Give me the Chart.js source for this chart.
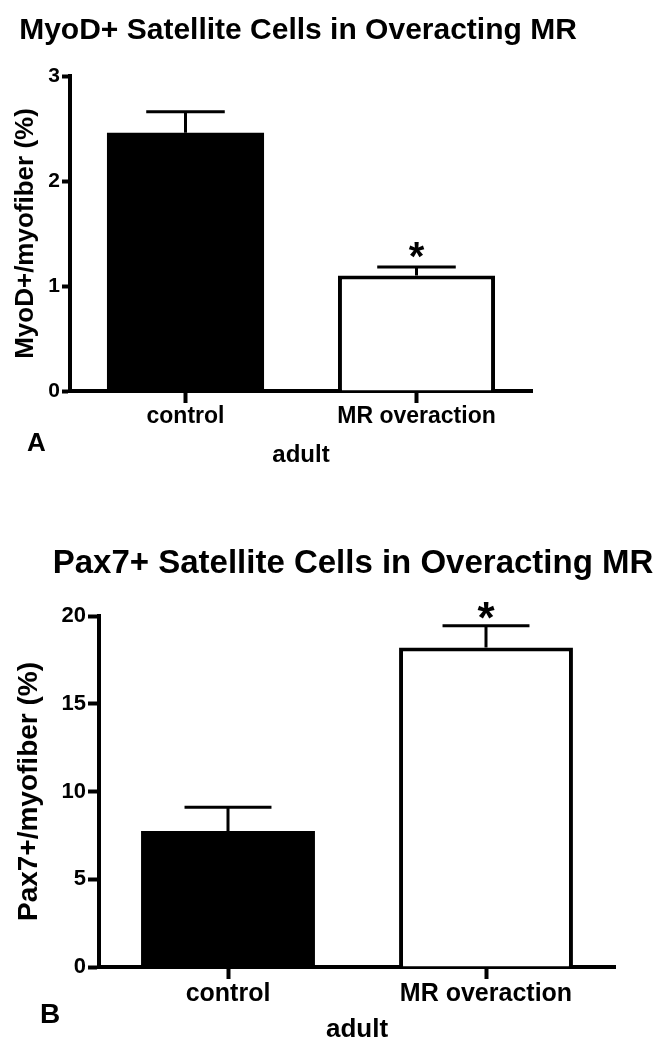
<!DOCTYPE html>
<html>
<head>
<meta charset="utf-8">
<title>MyoD+ and Pax7+ satellite cells in overacting MR</title>
<script src="https://cdn.jsdelivr.net/npm/chart.js@4.4.1/dist/chart.umd.min.js"></script>
<style>
  html, body { margin: 0; padding: 0; background: #fff; }
  #wrap { position: relative; width: 660px; height: 1050px; }
  canvas { position: absolute; left: 0; }
  #chartA { top: 0; }
  #chartB { top: 520px; }
</style>
</head>
<body>
<div id="wrap">
  <canvas id="chartA" width="660" height="490"></canvas>
  <canvas id="chartB" width="660" height="530"></canvas>
</div>
<script>
// --- values ---
const categories = ['control', 'MR overaction'];
const significance = ['', '*'];
const barFills = ['#000000', '#ffffff'];

// panel A: MyoD+/myofiber (%)
const myodMean = [2.46, 1.10];
const myodSem = [0.20, 0.08];
const myodTicks = [0, 1, 2, 3];

// panel B: Pax7+/myofiber (%)
const pax7Mean = [7.75, 18.2];
const pax7Sem = [1.35, 1.25];
const pax7Ticks = [0, 5, 10, 15, 20];

const FONT = "'Liberation Sans', Arial, Helvetica, sans-serif";
Chart.defaults.font.family = FONT;
Chart.defaults.color = '#000';

// SEM whiskers (upper half only) + significance mark
const errorBarPlugin = {
  id: 'errorBars',
  afterDatasetsDraw(chart, args, opts) {
    const { ctx } = chart;
    const yScale = chart.scales.y;
    const meta = chart.getDatasetMeta(0);
    const means = chart.data.datasets[0].data;
    ctx.save();
    ctx.strokeStyle = '#000';
    ctx.lineWidth = opts.lineWidth;
    meta.data.forEach((bar, i) => {
      const top = yScale.getPixelForValue(means[i] + opts.sem[i]);
      const base = yScale.getPixelForValue(means[i]);
      const half = bar.width * opts.capRatio / 2;
      ctx.beginPath();
      ctx.moveTo(bar.x, base);
      ctx.lineTo(bar.x, top);
      ctx.moveTo(bar.x - half, top);
      ctx.lineTo(bar.x + half, top);
      ctx.stroke();
      if (opts.marks[i]) {
        ctx.font = opts.markFont;
        ctx.fillStyle = '#000';
        ctx.textAlign = 'center';
        ctx.textBaseline = 'alphabetic';
        ctx.fillText(opts.marks[i], bar.x, top + opts.markShift);
      }
    });
    ctx.restore();
  }
};

// panel heading and letter (A / B), placed like the figure
const panelTextPlugin = {
  id: 'panelText',
  afterDraw(chart, args, opts) {
    const { ctx } = chart;
    ctx.save();
    ctx.fillStyle = '#000';
    ctx.textBaseline = 'middle';
    ctx.font = 'bold ' + opts.titleSize + 'px ' + FONT;
    ctx.textAlign = 'center';
    ctx.fillText(opts.title, opts.titleX, opts.titleY);
    ctx.font = 'bold ' + opts.letterSize + 'px ' + FONT;
    ctx.textAlign = 'left';
    ctx.fillText(opts.letter, opts.letterX, opts.letterY);
    ctx.restore();
  }
};

function buildPanel(id, p) {
  return new Chart(document.getElementById(id), {
    type: 'bar',
    data: {
      labels: categories,
      datasets: [{
        data: p.mean,
        backgroundColor: barFills,
        borderColor: '#000',
        borderWidth: [0, 4],
        barPercentage: p.barPct,
        categoryPercentage: 1
      }]
    },
    plugins: [errorBarPlugin, panelTextPlugin],
    options: {
      responsive: false,
      animation: false,
      devicePixelRatio: 1,
      layout: { padding: { left: 0, right: p.padRight, top: p.padTop, bottom: 0 } },
      plugins: {
        legend: { display: false },
        tooltip: { enabled: false },
        title: { display: false },
        errorBars: {
          sem: p.sem,
          marks: significance,
          lineWidth: 3,
          capRatio: 0.5,
          markFont: 'bold ' + p.markSize + 'px ' + FONT,
          markShift: p.markShift
        },
        panelText: {
          title: p.title, titleSize: p.titleSize, titleX: p.titleX, titleY: p.titleY,
          letter: p.letter, letterSize: p.letterSize, letterX: p.letterX, letterY: p.letterY
        }
      },
      scales: {
        x: {
          grid: { offset: false, drawOnChartArea: false, tickLength: 12, tickWidth: 4, tickColor: '#000' },
          border: { color: '#000', width: 4 },
          ticks: { color: '#000', padding: 0, font: { size: p.catSize, weight: 'bold' } },
          title: {
            display: true, text: 'adult', color: '#000',
            font: { size: p.adultSize, weight: 'bold' },
            padding: { top: 0, bottom: p.adultPad }
          },
          afterFit: s => { s.height = p.xAxisHeight; }
        },
        y: {
          min: 0,
          max: p.ticks[p.ticks.length - 1],
          afterBuildTicks: s => { s.ticks = p.ticks.map(v => ({ value: v })); },
          grid: { drawOnChartArea: false, tickLength: p.yTickLen, tickWidth: 4, tickColor: '#000' },
          border: { color: '#000', width: 4 },
          ticks: { color: '#000', padding: 2, font: { size: p.yTickSize, weight: 'bold' } },
          title: {
            display: true, text: p.yTitle, color: '#000',
            font: { size: p.yTitleSize, weight: 'bold' },
            padding: { top: p.yTitlePad, bottom: 0 }
          },
          afterFit: s => { s.width = p.yAxisWidth; }
        }
      }
    }
  });
}

buildPanel('chartA', {
  title: 'MyoD+ Satellite Cells in Overacting MR',
  yTitle: 'MyoD+/myofiber (%)',
  mean: myodMean, sem: myodSem, ticks: myodTicks,
  titleSize: 30, titleX: 298, titleY: 31,
  padTop: 76, padRight: 128, yAxisWidth: 70, xAxisHeight: 99,
  barPct: 0.68,
  yTickSize: 21, yTickLen: 8, yTitleSize: 26, yTitlePad: 10,
  catSize: 23, adultSize: 24, adultPad: 20,
  markSize: 40, markShift: 3,
  letter: 'A', letterX: 27, letterY: 444, letterSize: 26
});

buildPanel('chartB', {
  title: 'Pax7+ Satellite Cells in Overacting MR',
  yTitle: 'Pax7+/myofiber (%)',
  mean: pax7Mean, sem: pax7Sem, ticks: pax7Ticks,
  titleSize: 33, titleX: 353, titleY: 44,
  padTop: 96, padRight: 45, yAxisWidth: 99, xAxisHeight: 83,
  barPct: 0.674,
  yTickSize: 22, yTickLen: 11, yTitleSize: 28, yTitlePad: 12,
  catSize: 25, adultSize: 26, adultPad: 5,
  markSize: 44, markShift: 7,
  letter: 'B', letterX: 40, letterY: 495, letterSize: 28
});
</script>
</body>
</html>
